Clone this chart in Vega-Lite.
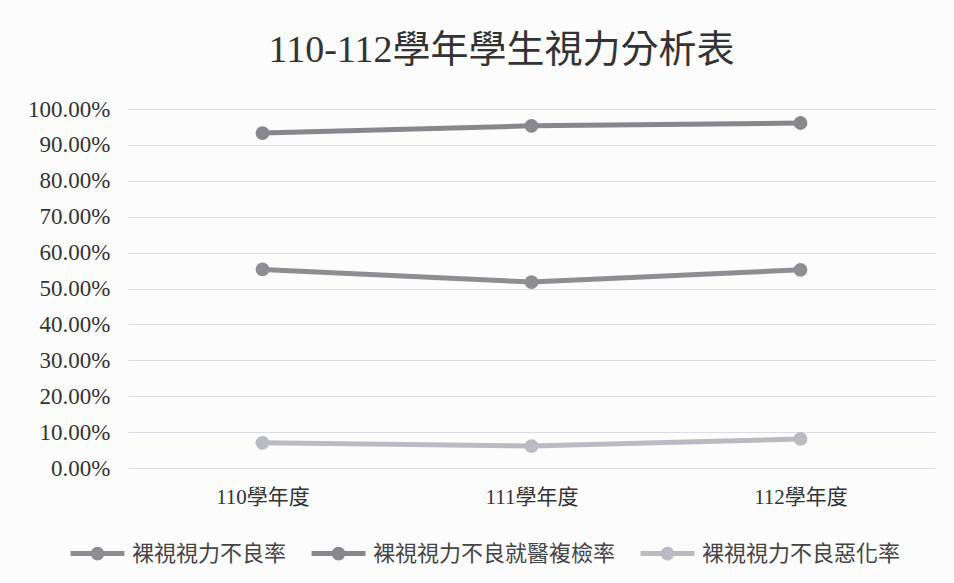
{
  "$schema": "https://vega.github.io/schema/vega-lite/v6.json",
  "autosize": {"type": "none"},
  "width": 807,
  "height": 359,
  "padding": {"left": 128, "top": 109, "right": 19, "bottom": 115},
  "background": "#fcfcfd",
  "title": {
    "text": "110-112學年學生視力分析表",
    "font": "Liberation Serif, Noto Sans CJK TC",
    "fontSize": 38,
    "fontWeight": "normal",
    "color": "#333333",
    "anchor": "middle",
    "dx": -30,
    "offset": 28
  },
  "data": {
    "values": [
      {"year": "110學年度", "series": "裸視視力不良率", "rate": 0.553},
      {"year": "111學年度", "series": "裸視視力不良率", "rate": 0.518},
      {"year": "112學年度", "series": "裸視視力不良率", "rate": 0.552},
      {"year": "110學年度", "series": "裸視視力不良就醫複檢率", "rate": 0.933},
      {"year": "111學年度", "series": "裸視視力不良就醫複檢率", "rate": 0.953},
      {"year": "112學年度", "series": "裸視視力不良就醫複檢率", "rate": 0.961},
      {"year": "110學年度", "series": "裸視視力不良惡化率", "rate": 0.07},
      {"year": "111學年度", "series": "裸視視力不良惡化率", "rate": 0.061},
      {"year": "112學年度", "series": "裸視視力不良惡化率", "rate": 0.081}
    ]
  },
  "mark": {
    "type": "line",
    "strokeWidth": 5,
    "point": {"filled": true, "size": 190, "opacity": 1}
  },
  "encoding": {
    "x": {
      "field": "year",
      "type": "ordinal",
      "sort": null,
      "scale": {"type": "point", "padding": 0.5},
      "axis": {
        "title": null,
        "labelAngle": 0,
        "domain": false,
        "ticks": false,
        "grid": false,
        "labelPadding": 18,
        "labelFont": "Liberation Serif, Noto Sans CJK TC",
        "labelFontSize": 21,
        "labelColor": "#333333"
      }
    },
    "y": {
      "field": "rate",
      "type": "quantitative",
      "scale": {"domain": [0, 1], "nice": false},
      "axis": {
        "title": null,
        "format": ".2%",
        "values": [0, 0.1, 0.2, 0.3, 0.4, 0.5, 0.6, 0.7, 0.8, 0.9, 1],
        "domain": false,
        "ticks": false,
        "labelPadding": 18,
        "labelFont": "Liberation Serif, Noto Sans CJK TC",
        "labelFontSize": 23,
        "labelColor": "#333333",
        "gridColor": "#dcdce4",
        "gridWidth": 1
      }
    },
    "color": {
      "field": "series",
      "type": "nominal",
      "scale": {
        "domain": ["裸視視力不良率", "裸視視力不良就醫複檢率", "裸視視力不良惡化率"],
        "range": ["#8e8e92", "#88888c", "#babac2"]
      },
      "legend": {
        "title": null,
        "orient": "none",
        "legendX": -60,
        "legendY": 415,
        "direction": "horizontal",
        "symbolType": "M-1,0L1,0M0.16,0A0.16,0.16 0 1,1 -0.16,0A0.16,0.16 0 1,1 0.16,0",
        "symbolSize": 2900,
        "symbolStrokeWidth": 5,
        "labelFont": "Liberation Serif, Noto Sans CJK TC",
        "labelFontSize": 22,
        "labelLimit": 400,
        "labelColor": "#444444",
        "labelOffset": 5,
        "columnPadding": 14,
        "encode": {
          "symbols": {"update": {"fill": {"scale": "color", "field": "value"}, "fillOpacity": {"value": 1}}}
        }
      }
    }
  },
  "config": {"view": {"stroke": null}}
}
